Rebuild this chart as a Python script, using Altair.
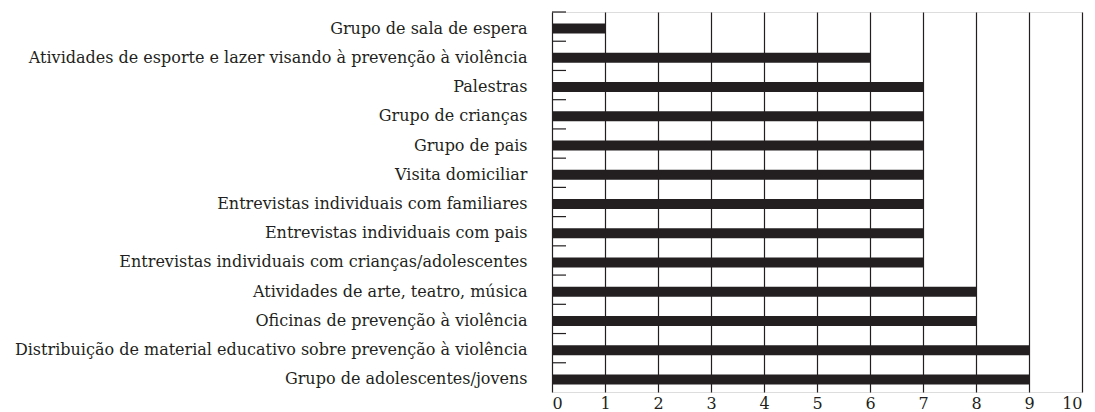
import altair as alt
import pandas as pd

categories = [
    "Grupo de sala de espera",
    "Atividades de esporte e lazer visando à prevenção à violência",
    "Palestras",
    "Grupo de crianças",
    "Grupo de pais",
    "Visita domiciliar",
    "Entrevistas individuais com familiares",
    "Entrevistas individuais com pais",
    "Entrevistas individuais com crianças/adolescentes",
    "Atividades de arte, teatro, música",
    "Oficinas de prevenção à violência",
    "Distribuição de material educativo sobre prevenção à violência",
    "Grupo de adolescentes/jovens",
]
values = [1, 6, 7, 7, 7, 7, 7, 7, 7, 8, 8, 9, 9]
x_ticks = list(range(0, 11))

df = pd.DataFrame({"categoria": categories, "valor": values})

FONT = "DejaVu Serif, serif"
FS = 16

y_enc = alt.Y("categoria:N", sort=categories, title=None,
              scale=alt.Scale(paddingInner=0, paddingOuter=0),
              axis=alt.Axis(labelFont=FONT, labelFontSize=FS, labelColor="#231f20",
                            labelPadding=25, labelOffset=2, ticks=False, domain=False,
                            labelLimit=600))
x_enc = alt.X("valor:Q", title=None,
              scale=alt.Scale(domain=[0, 10], nice=False),
              axis=alt.Axis(values=x_ticks, labelFont=FONT, labelFontSize=FS,
                            labelColor="#231f20", grid=True, gridColor="#231f20",
                            gridOpacity=1, gridWidth=1.2, ticks=False, domain=False,
                            labelPadding=3))

bars = alt.Chart(df).mark_bar(color="#231f20", size=10, yOffset=2).encode(
    x=x_enc, y=y_enc
)

tick_marks = alt.Chart(df).mark_rule(color="#231f20", strokeWidth=1.2).encode(
    y=alt.Y("categoria:N", sort=categories, bandPosition=0),
    x=alt.value(0), x2=alt.value(14)
)

chart = alt.layer(bars, tick_marks).properties(
    width=530, height=380,
    autosize=alt.AutoSizeParams(type="none"),
    padding={"left": 544, "top": 4, "right": 5, "bottom": 20},
).configure_view(stroke="#231f20", strokeWidth=1.2).configure(background="white")

chart.save("out.html", embed_options={"renderer": "svg", "actions": False})
